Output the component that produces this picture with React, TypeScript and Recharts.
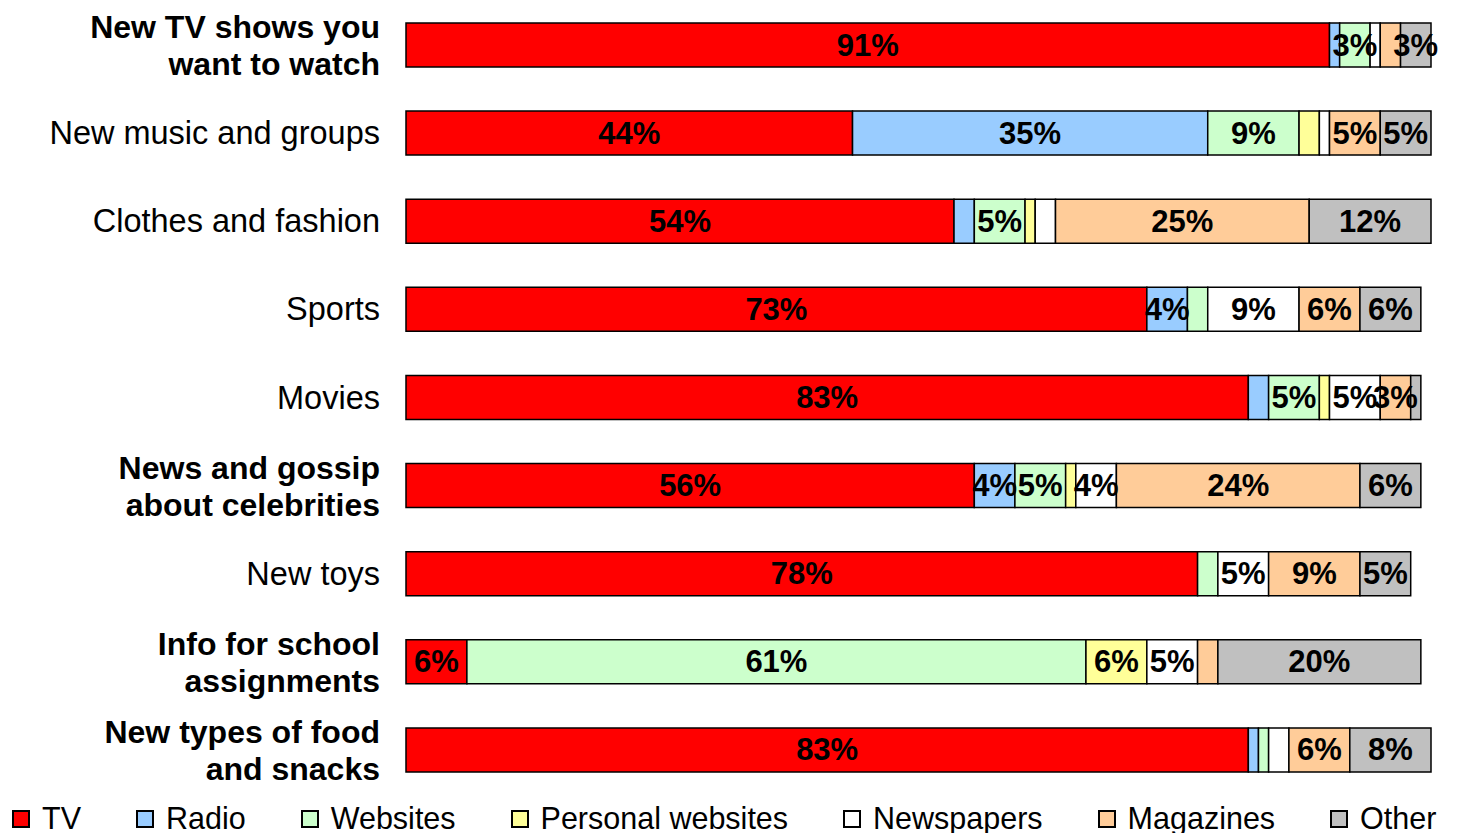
import { BarChart, Bar, XAxis, YAxis, Legend } from 'recharts';

const categories = [
    'New TV shows you\nwant to watch',
    'New music and groups',
    'Clothes and fashion',
    'Sports',
    'Movies',
    'News and gossip\nabout celebrities',
    'New toys',
    'Info for school\nassignments',
    'New types of food\nand snacks',
];

const tv = [91, 44, 54, 73, 83, 56, 78, 6, 83];
const radio = [1, 35, 2, 4, 2, 4, 0, 0, 1];
const websites = [3, 9, 5, 2, 5, 5, 2, 61, 1];
const personal = [0, 2, 1, 0, 1, 1, 0, 6, 0];
const newspapers = [1, 1, 2, 9, 5, 4, 5, 5, 2];
const magazines = [2, 5, 25, 6, 3, 24, 9, 2, 6];
const other = [3, 5, 12, 6, 1, 6, 5, 20, 8];

const series = [
    { key: 'tv', name: 'TV', values: tv, color: '#FF0000' },
    { key: 'radio', name: 'Radio', values: radio, color: '#99CCFF' },
    { key: 'websites', name: 'Websites', values: websites, color: '#CCFFCC' },
    { key: 'personal', name: 'Personal websites', values: personal, color: '#FFFF99' },
    { key: 'newspapers', name: 'Newspapers', values: newspapers, color: '#FFFFFF' },
    { key: 'magazines', name: 'Magazines', values: magazines, color: '#FFCC99' },
    { key: 'other', name: 'Other', values: other, color: '#C0C0C0' },
];

const data = categories.map((name, i) => ({
    name,
    tv: tv[i],
    radio: radio[i],
    websites: websites[i],
    personal: personal[i],
    newspapers: newspapers[i],
    magazines: magazines[i],
    other: other[i],
}));

const FONT = "'Liberation Sans', Arial, sans-serif";

const CategoryTick = (props: any) => {
    const { x, y, payload } = props;
    const lines = String(payload.value).split('\n');
    const bold = lines.length > 1;
    const startDy = lines.length > 1 ? -18 : 0;
    return (
        <text
            x={x - 18}
            y={y}
            textAnchor="end"
            fontFamily={FONT}
            fontSize={bold ? 32 : 32.5}
            fontWeight={bold ? 'bold' : 'normal'}
            fill="#000"
        >
            {lines.map((line, i) => (
                <tspan key={i} x={x - 18} dy={i === 0 ? startDy : 37} dominantBaseline="central">
                    {line}
                </tspan>
            ))}
        </text>
    );
};

// the label gets the stacked value, so look the raw one up again
// (zero-width segments get no label entry, hence the non-zero index list)
const renderValueLabel = (key: string, values: number[]) => {
    const nonZeroRows = values.map((v, i) => (v ? i : -1)).filter((i) => i >= 0);
    return (props: any) => {
        const { x, y, width, height, index, payload } = props;
        let value: number | undefined;
        if (payload && payload[key] != null) {
            value = payload[key];
        } else {
            value = values[nonZeroRows[index]];
        }
        if (value == null || value < 3) return null;
        return (
            <text
                key={`lbl-${key}-${index}`}
                x={Number(x) + Number(width) / 2}
                y={Number(y) + Number(height) / 2}
                textAnchor="middle"
                dominantBaseline="central"
                fontFamily={FONT}
                fontSize={31}
                fontWeight="bold"
                fill="#000"
            >
                {value}%
            </text>
        );
    };
};

const LegendContent = () => (
    <div
        style={{
            display: 'flex',
            alignItems: 'center',
            gap: 55,
            paddingLeft: 12,
            paddingTop: 10,
            height: 29,
            fontFamily: FONT,
            fontSize: 30.5,
            color: '#000',
            whiteSpace: 'nowrap',
        }}
    >
        {series.map((s) => (
            <div key={s.key} style={{ display: 'flex', alignItems: 'center', flexShrink: 0 }}>
                <span
                    style={{
                        display: 'inline-block',
                        width: 14,
                        height: 14,
                        background: s.color,
                        border: '2px solid #000',
                        marginRight: 12,
                    }}
                />
                <span>{s.name}</span>
            </div>
        ))}
    </div>
);

export default function App() {
    return (
        <div style={{ position: 'absolute', left: 0, top: 0, background: '#fff' }}>
            <BarChart
                width={1469}
                height={833}
                data={data}
                layout="vertical"
                margin={{ top: 1, right: 38, bottom: 0, left: 0 }}
            >
                <XAxis type="number" domain={[0, 101]} hide />
                <YAxis
                    type="category"
                    dataKey="name"
                    width={406}
                    axisLine={false}
                    tickLine={false}
                    tick={<CategoryTick />}
                    interval={0}
                />
                <Legend
                    verticalAlign="bottom"
                    align="left"
                    content={<LegendContent />}
                    wrapperStyle={{ left: 0, bottom: 0, height: 39, width: 1469 }}
                />
                {series.map((s) => (
                    <Bar
                        key={s.key}
                        dataKey={s.key}
                        name={s.name}
                        stackId="a"
                        barSize={44}
                        fill={s.color}
                        stroke="#000"
                        strokeWidth={1.5}
                        isAnimationActive={false}
                        label={renderValueLabel(s.key, s.values)}
                    />
                ))}
            </BarChart>
        </div>
    );
}
